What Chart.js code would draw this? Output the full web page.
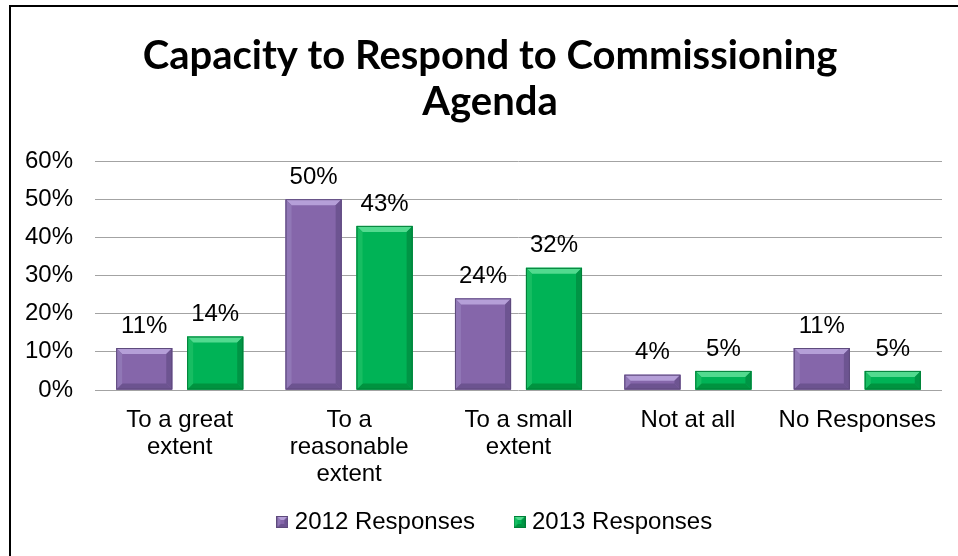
<!DOCTYPE html>
<html>
<head>
<meta charset="utf-8">
<title>Capacity to Respond to Commissioning Agenda</title>
<script src="https://cdn.jsdelivr.net/npm/chart.js@4/dist/chart.umd.min.js"></script>
<style>
  html, body { margin: 0; padding: 0; background: #fff; overflow: hidden; }
  #stage { position: relative; width: 958px; height: 556px; overflow: hidden; }
  #frame { position: absolute; left: 9px; top: 5px; width: 1000px; height: 620px;
           border: 2px solid #000; box-sizing: border-box; pointer-events: none; }
  canvas { display: block; position: absolute; left: 0; top: 0; }
</style>
</head>
<body>
<div id="stage">
  <canvas id="chart" width="958" height="556"></canvas>
  <div id="frame"></div>
</div>
<script>
// ---- data ----
const categories = [
  ["To a great", "extent"],
  ["To a", "reasonable", "extent"],
  ["To a small", "extent"],
  "Not at all",
  "No Responses"
];
const seriesNames = ["2012 Responses", "2013 Responses"];
const responses2012 = [11, 50, 24, 4, 11];
const responses2013 = [14, 43, 32, 5, 5];
const yTicks = [0, 10, 20, 30, 40, 50, 60];
const titleLines = ["Capacity to Respond to Commissioning", "Agenda"];

// ---- styling ----
const palettes = [
  { face: "#8566AA", top: "#B59FD8", left: "#9077B6", right: "#6D5491", bottom: "#6C5390", edge: "#5E4A7C" },
  { face: "#00B356", top: "#52DA8F", left: "#17BD62", right: "#009545", bottom: "#00933F", edge: "#007F38" }
];
const textFont = "'Liberation Sans', Arial, sans-serif";
const textSize = 24;

function poly(ctx, pts, color) {
  ctx.beginPath();
  ctx.moveTo(pts[0][0], pts[0][1]);
  for (let i = 1; i < pts.length; i++) ctx.lineTo(pts[i][0], pts[i][1]);
  ctx.closePath();
  ctx.fillStyle = color;
  ctx.fill();
}

// bevelled box: light top face, shaded sides, thin outline
function drawBevel(ctx, l, t, r, b, pal, size) {
  const w = r - l, h = b - t;
  const s = Math.min(size, h / 2, w / 2);
  ctx.save();
  ctx.fillStyle = pal.face;
  ctx.fillRect(l, t, w, h);
  poly(ctx, [[l, t], [r, t], [r - s, t + s], [l + s, t + s]], pal.top);
  poly(ctx, [[r, t], [r, b], [r - s, b - s], [r - s, t + s]], pal.right);
  poly(ctx, [[l, b], [r, b], [r - s, b - s], [l + s, b - s]], pal.bottom);
  poly(ctx, [[l, t], [l + s, t + s], [l + s, b - s], [l, b]], pal.left);
  ctx.strokeStyle = pal.edge;
  ctx.lineWidth = 1;
  ctx.strokeRect(l + 0.5, t + 0.5, w - 1, h - 1);
  ctx.restore();
}

// small bevelled squares used as legend markers
const markers = palettes.map(pal => {
  const c = document.createElement("canvas");
  c.width = 12; c.height = 12;
  drawBevel(c.getContext("2d"), 0, 0, 12, 12, pal, 4);
  return c;
});

// let axis labels spill outside their scale box instead of being cut off
function unclipLabels(scale) { scale._computeLabelArea = () => undefined; }

const bevelBars = {
  id: "bevelBars",
  afterDatasetsDraw(chart) {
    const ctx = chart.ctx;
    chart.data.datasets.forEach((ds, i) => {
      const meta = chart.getDatasetMeta(i);
      meta.data.forEach(bar => {
        const { x, y, base, width } = bar.getProps(["x", "y", "base", "width"], true);
        drawBevel(ctx, x - width / 2, y, x + width / 2, base, palettes[i], 6);
      });
    });
  }
};

const valueLabels = {
  id: "valueLabels",
  afterDatasetsDraw(chart) {
    const ctx = chart.ctx;
    ctx.save();
    ctx.font = textSize + "px " + textFont;
    ctx.fillStyle = "#000";
    ctx.textAlign = "center";
    ctx.textBaseline = "middle";
    chart.data.datasets.forEach((ds, i) => {
      const meta = chart.getDatasetMeta(i);
      meta.data.forEach((bar, j) => {
        ctx.fillText(ds.data[j] + "%", bar.x, bar.y - 22);
      });
    });
    ctx.restore();
  }
};

// move the legend row slightly right of the plain centred position
const legendOffset = {
  id: "legendOffset",
  afterLayout(chart) {
    if (chart.legend) { chart.legend.left += 7; chart.legend.right += 7; }
  }
};

const whiteBackground = {
  id: "whiteBackground",
  beforeDraw(chart) {
    const ctx = chart.ctx;
    ctx.save();
    ctx.fillStyle = "#fff";
    ctx.fillRect(0, 0, chart.width, chart.height);
    ctx.restore();
  }
};

new Chart(document.getElementById("chart"), {
  type: "bar",
  data: {
    labels: categories,
    datasets: [
      { label: seriesNames[0], data: responses2012, backgroundColor: palettes[0].face,
        borderWidth: 0, categoryPercentage: 0.838, barPercentage: 0.79 },
      { label: seriesNames[1], data: responses2013, backgroundColor: palettes[1].face,
        borderWidth: 0, categoryPercentage: 0.838, barPercentage: 0.79 }
    ]
  },
  options: {
    responsive: false,
    animation: false,
    devicePixelRatio: 1,
    layout: { padding: { left: 38, right: 16, top: 33, bottom: 12 } },
    plugins: {
      title: {
        display: true,
        text: titleLines,
        color: "#000",
        font: { family: "Lato, 'Open Sans', sans-serif", weight: "bold", size: 40, lineHeight: 1.15 },
        padding: { top: 0, bottom: 36 }
      },
      legend: {
        position: "bottom",
        labels: {
          color: "#000",
          font: { family: textFont, size: textSize },
          usePointStyle: true,
          boxWidth: 1,
          boxHeight: 12,
          padding: 44,
          generateLabels(chart) {
            const items = Chart.defaults.plugins.legend.labels.generateLabels(chart);
            items.forEach((it, i) => { it.pointStyle = markers[i]; });
            return items;
          }
        }
      },
      tooltip: { enabled: false }
    },
    scales: {
      x: {
        grid: { display: false },
        border: { display: false },
        ticks: {
          color: "#000",
          font: { family: textFont, size: textSize, lineHeight: 1.13 },
          padding: 9,
          maxRotation: 0,
          autoSkip: false
        },
        afterFit(scale) { scale.height = 76; unclipLabels(scale); }
      },
      y: {
        min: 0,
        max: 60,
        afterBuildTicks(scale) { scale.ticks = yTicks.map(v => ({ value: v })); },
        grid: { color: "#A3A3A3", lineWidth: 1, drawTicks: false },
        border: { display: false },
        ticks: {
          color: "#000",
          font: { family: textFont, size: textSize },
          padding: 22,
          callback: v => v + "%"
        },
        afterFit(scale) { scale.width = 57; unclipLabels(scale); }
      }
    }
  },
  plugins: [whiteBackground, legendOffset, bevelBars, valueLabels]
});
</script>
</body>
</html>
